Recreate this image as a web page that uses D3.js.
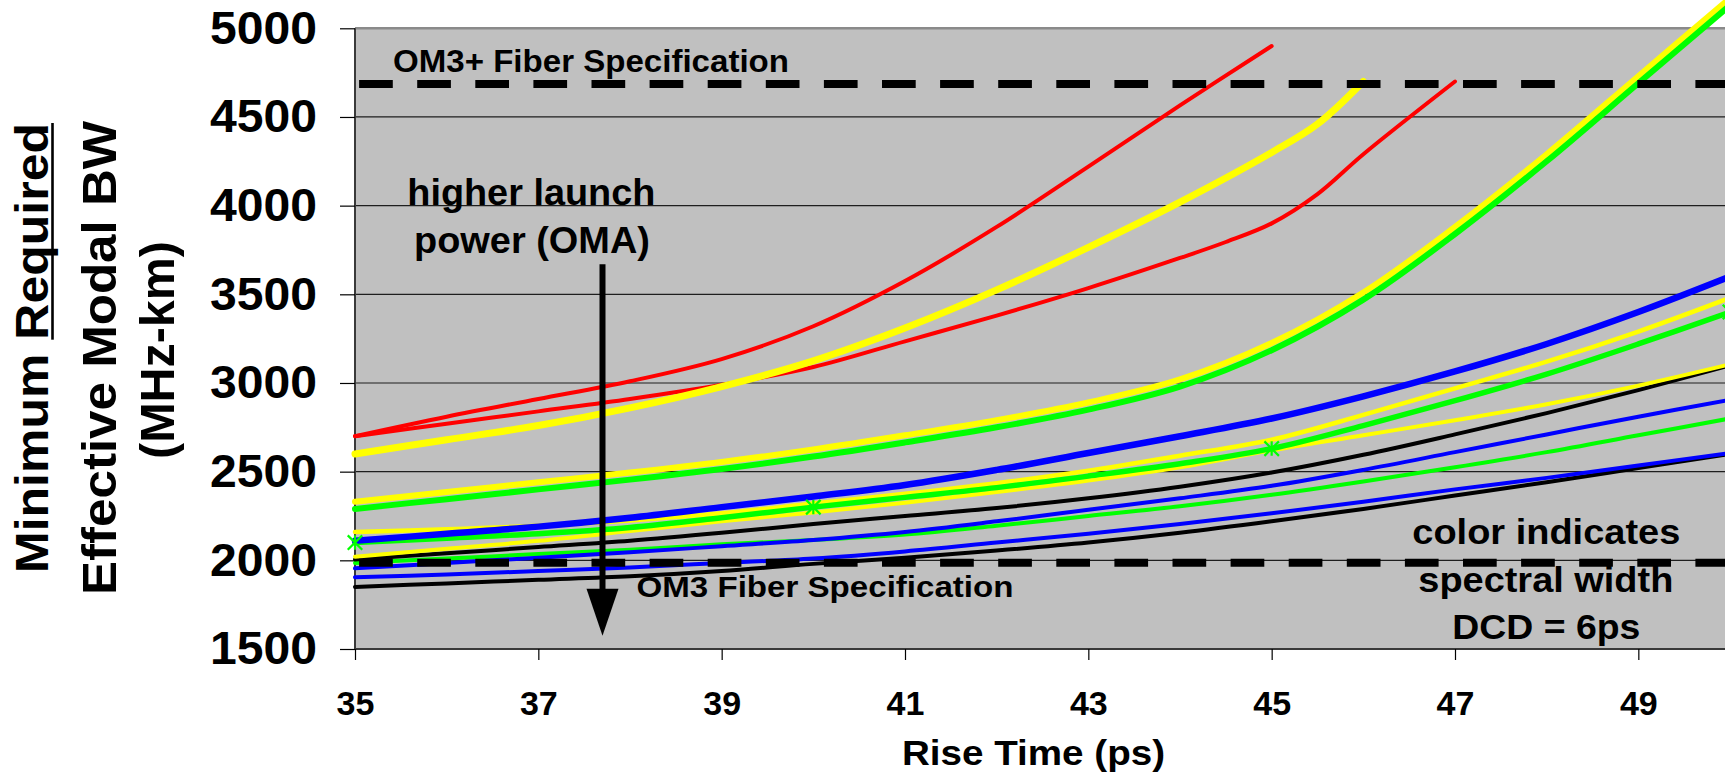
<!DOCTYPE html>
<html>
<head>
<meta charset="utf-8">
<script src="https://cdn.jsdelivr.net/npm/d3@7"></script>
<style>
  html, body { margin: 0; padding: 0; background: #fff; overflow: hidden; }
  svg { display: block; }
  text { font-family: "Liberation Sans", Arial, Helvetica, sans-serif; font-weight: bold; fill: #000; }
</style>
</head>
<body>
<svg id="chart" width="1725" height="774"></svg>
<script>
// ---- data: minimum required effective modal bandwidth (MHz-km) vs rise time (ps)
const riseTime = [35, 36, 37, 38, 39, 40, 41, 42, 43, 44, 45, 46, 47, 48, 49, 50];
const redSteepTime   = [35, 36, 37, 38, 39, 40, 41, 42, 43, 44, 45];
const redMidTime     = [35, 36, 37, 38, 39, 40, 41, 42, 43, 44, 44.5, 45, 45.5, 46, 47];
const yellowWideTime = [35, 36, 37, 38, 39, 40, 41, 42, 43, 44, 45, 45.5, 46];

const redSteep    = [2700, 2810, 2910, 3010, 3135, 3320, 3575, 3880, 4220, 4565, 4900];
const redMid      = [2700, 2770, 2840, 2910, 2990, 3090, 3235, 3380, 3535, 3705, 3795, 3900, 4065, 4290, 4700];
const yellowWide  = [2600, 2680, 2760, 2860, 2980, 3125, 3310, 3525, 3765, 4020, 4300, 4460, 4700];
const yellowHigh  = [2330, 2385, 2440, 2495, 2555, 2625, 2705, 2790, 2890, 3020, 3225, 3510, 3880, 4290, 4730, 5170];
const greenHigh   = [2290, 2345, 2400, 2455, 2515, 2585, 2665, 2750, 2850, 2980, 3185, 3470, 3840, 4250, 4690, 5130];
const blueHigh    = [2110, 2150, 2190, 2240, 2300, 2360, 2425, 2510, 2605, 2700, 2800, 2925, 3065, 3220, 3400, 3600];
const yellowMid   = [2160, 2175, 2195, 2225, 2265, 2320, 2375, 2435, 2505, 2590, 2680, 2820, 2970, 3120, 3290, 3480];
const greenMid    = [2100, 2125, 2150, 2185, 2240, 2300, 2355, 2410, 2475, 2545, 2630, 2760, 2900, 3050, 3220, 3400];
const yellowLow   = [2020, 2065, 2110, 2165, 2220, 2270, 2325, 2385, 2450, 2525, 2620, 2705, 2790, 2880, 2985, 3105];
const blackMid    = [2005, 2040, 2075, 2110, 2155, 2205, 2250, 2295, 2350, 2415, 2495, 2595, 2710, 2830, 2960, 3100];
const blueMid     = [1955, 1985, 2015, 2045, 2080, 2115, 2160, 2220, 2285, 2350, 2420, 2510, 2610, 2710, 2810, 2905];
const greenLow    = [1985, 2010, 2035, 2060, 2090, 2115, 2145, 2195, 2250, 2305, 2370, 2445, 2525, 2610, 2705, 2800];
const blueLow     = [1905, 1920, 1940, 1960, 1985, 2010, 2050, 2100, 2150, 2205, 2265, 2330, 2400, 2465, 2535, 2605];
const blackLow    = [1850, 1870, 1890, 1910, 1940, 1980, 2015, 2055, 2100, 2155, 2220, 2290, 2365, 2440, 2520, 2600];

const markerTimes = [35, 40, 45, 50];           // asterisk markers on the mid green curve

const om3Spec = 2000;                           // OM3 fiber specification
const om3PlusSpec = 4700;                       // OM3+ fiber specification

const xTicks = [35, 37, 39, 41, 43, 45, 47, 49];
const yTicks = [1500, 2000, 2500, 3000, 3500, 4000, 4500, 5000];
const gridValues = [2000, 2500, 3000, 3500, 4000, 4500];

// ---- series styling (drawing order: first is at the back)
const series = [
  { t: riseTime, v: blackLow,   color: "#000000", w: 4 },
  { t: riseTime, v: blueLow,    color: "#0000FF", w: 4 },
  { t: riseTime, v: greenLow,   color: "#00FF00", w: 4 },
  { t: riseTime, v: blueMid,    color: "#0000FF", w: 4 },
  { t: riseTime, v: blackMid,   color: "#000000", w: 4 },
  { t: riseTime, v: yellowLow,  color: "#FFFF00", w: 4 },
  { t: riseTime, v: yellowMid,  color: "#FFFF00", w: 4.5 },
  { t: riseTime, v: greenMid,   color: "#00FF00", w: 5.5 },
  { t: riseTime, v: blueHigh,   color: "#0000FF", w: 6.5 },
  { t: riseTime, v: yellowHigh, color: "#FFFF00", w: 6 },
  { t: riseTime, v: greenHigh,  color: "#00FF00", w: 6 },
  { t: redMidTime, v: redMid,   color: "#FF0000", w: 4 },
  { t: yellowWideTime, v: yellowWide, color: "#FFFF00", w: 7 },
  { t: redSteepTime, v: redSteep, color: "#FF0000", w: 4 }
];

// ---- scales
const x = d3.scaleLinear().domain([35, 50]).range([355, 1730]);
const y = d3.scaleLinear().domain([1500, 5000]).range([649, 28.3]);

const svg = d3.select("#chart");

// plot background
svg.append("rect")
  .attr("x", x(35)).attr("y", y(5000))
  .attr("width", x(50) - x(35)).attr("height", y(1500) - y(5000))
  .attr("fill", "#C0C0C0");

// horizontal gridlines
svg.append("g").selectAll("line").data(gridValues).join("line")
  .attr("x1", x(35)).attr("x2", x(50))
  .attr("y1", d => y(d)).attr("y2", d => y(d))
  .attr("stroke", "#1e1e1e").attr("stroke-width", 1.2);

// plot frame: grey top edge, dark left and bottom edges
svg.append("line").attr("x1", x(35)).attr("x2", x(50)).attr("y1", y(5000)).attr("y2", y(5000))
  .attr("stroke", "#8a8a8a").attr("stroke-width", 2.5);
svg.append("line").attr("x1", x(35)).attr("x2", x(35)).attr("y1", y(5000)).attr("y2", y(1500))
  .attr("stroke", "#3a3a3a").attr("stroke-width", 2);
svg.append("line").attr("x1", x(35)).attr("x2", x(50)).attr("y1", y(1500)).attr("y2", y(1500))
  .attr("stroke", "#3a3a3a").attr("stroke-width", 2);

// axes
const yAxis = svg.append("g").attr("transform", `translate(${x(35)},0)`)
  .call(d3.axisLeft(y).tickValues(yTicks).tickSize(15).tickPadding(23).tickFormat(d3.format("d")));
yAxis.select(".domain").remove();
yAxis.selectAll(".tick line").attr("stroke", "#000").attr("stroke-width", 1.2);
yAxis.selectAll(".tick text")
  .style("font-size", "46px")
  .attr("textLength", 107).attr("lengthAdjust", "spacingAndGlyphs");

const xAxis = svg.append("g").attr("transform", `translate(0,${y(1500)})`)
  .call(d3.axisBottom(x).tickValues(xTicks).tickSize(11).tickPadding(31).tickFormat(d3.format("d")));
xAxis.select(".domain").remove();
xAxis.selectAll(".tick line").attr("stroke", "#000").attr("stroke-width", 1.2);
xAxis.selectAll(".tick text").style("font-size", "34px");

// curves
const line = d3.line()
  .x(d => x(d[0])).y(d => y(d[1]))
  .curve(d3.curveCatmullRom.alpha(0.5));

svg.append("g").selectAll("path").data(series).join("path")
  .attr("d", s => line(s.v.map((v, i) => [s.t[i], v])))
  .attr("fill", "none")
  .attr("stroke", s => s.color)
  .attr("stroke-width", s => s.w)
  .attr("stroke-linecap", "round")
  .attr("stroke-linejoin", "round");

// asterisk markers on the mid green curve
const asterisk = {
  draw(ctx, size) {
    const r = Math.sqrt(size) / 2;
    ctx.moveTo(-r, -r); ctx.lineTo(r, r);
    ctx.moveTo(-r, r); ctx.lineTo(r, -r);
    ctx.moveTo(0, -r); ctx.lineTo(0, r);
  }
};
svg.append("g").selectAll("path").data(markerTimes).join("path")
  .attr("transform", t => `translate(${x(t)},${y(greenMid[riseTime.indexOf(t)])})`)
  .attr("d", d3.symbol().type(asterisk).size(210))
  .attr("fill", "none").attr("stroke", "#00FF00").attr("stroke-width", 2.2);

// fiber specification lines (dashed)
svg.append("g").selectAll("line").data([om3Spec, om3PlusSpec]).join("line")
  .attr("x1", x(35)).attr("x2", x(50))
  .attr("y1", d => y(d) + 2.5).attr("y2", d => y(d) + 2.5)
  .attr("stroke", "#000").attr("stroke-width", 8)
  .attr("stroke-dasharray", "33.7 24.4").attr("stroke-dashoffset", 54);

// launch-power arrow
const arrowX = 37.7, arrowTop = 3670, arrowHeadBase = 1840, arrowTip = 1575;
svg.append("line")
  .attr("x1", x(arrowX)).attr("x2", x(arrowX))
  .attr("y1", y(arrowTop)).attr("y2", y(arrowHeadBase) + 4)
  .attr("stroke", "#000").attr("stroke-width", 6);
svg.append("path")
  .attr("d", `M${x(arrowX) - 16},${y(arrowHeadBase)} L${x(arrowX) + 16},${y(arrowHeadBase)} L${x(arrowX)},${y(arrowTip)} Z`)
  .attr("fill", "#000");

// annotations
const notes = [
  { text: "OM3+ Fiber Specification", x: 393,    y: 71.7,  size: 31, len: 396 },
  { text: "higher launch",            x: 407.3,  y: 205,   size: 36, len: 248 },
  { text: "power (OMA)",              x: 414,    y: 253.3, size: 36, len: 236 },
  { text: "OM3 Fiber Specification",  x: 636.5,  y: 597,   size: 30, len: 377 },
  { text: "color indicates",          x: 1412.3, y: 544,   size: 35, len: 268 },
  { text: "spectral width",           x: 1418.3, y: 591.7, size: 35, len: 255 },
  { text: "DCD = 6ps",                x: 1452.3, y: 639.3, size: 35, len: 188 },
  { text: "Rise Time (ps)",           x: 902,    y: 765,   size: 35, len: 263 }
];
svg.append("g").selectAll("text").data(notes).join("text")
  .attr("x", d => d.x).attr("y", d => d.y)
  .style("font-size", d => d.size + "px")
  .attr("textLength", d => d.len).attr("lengthAdjust", "spacingAndGlyphs")
  .text(d => d.text);

// rotated y-axis title, three lines
const titleLines = [
  { parts: ["Minimum ", "Required"], bx: 48,  cy: 348, len: 450, size: 46 },
  { parts: ["Effective Modal BW"],    bx: 116, cy: 358, len: 474, size: 48 },
  { parts: ["(MHz-km)"],              bx: 174, cy: 350, len: 218, size: 48 }
];
titleLines.forEach((ln, i) => {
  const g = svg.append("g").attr("transform", `translate(${ln.bx},${ln.cy}) rotate(-90)`);
  const t = g.append("text")
    .attr("text-anchor", "middle")
    .style("font-size", ln.size + "px")
    .attr("textLength", ln.len).attr("lengthAdjust", "spacingAndGlyphs");
  ln.parts.forEach(p => t.append("tspan").text(p));
  if (i === 0) {
    // underline the word "Required"
    const bb = t.selectAll("tspan").nodes()[1].getBBox();
    g.append("line")
      .attr("x1", bb.x).attr("x2", bb.x + bb.width)
      .attr("y1", 4.5).attr("y2", 4.5)
      .attr("stroke", "#000").attr("stroke-width", 2.6);
  }
});
</script>
</body>
</html>
